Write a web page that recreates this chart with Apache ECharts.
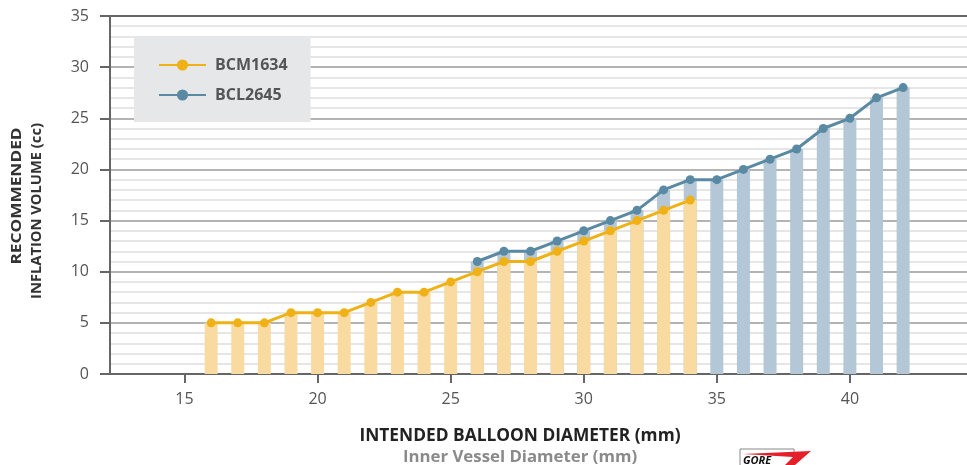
<!DOCTYPE html>
<html>
<head>
<meta charset="utf-8">
<title>Recommended inflation volume</title>
<script src="https://cdn.jsdelivr.net/npm/echarts@6/dist/echarts.min.js"></script>
<style>
  html, body { margin: 0; padding: 0; background: #fff; }
  #chart { width: 967px; height: 465px; }
</style>
</head>
<body>
<div id="chart"></div>
<script>
// balloon diameters (mm) and recommended volumes (cc)
const bcmDiameter = [16, 17, 18, 19, 20, 21, 22, 23, 24, 25, 26, 27, 28, 29, 30, 31, 32, 33, 34];
const bcmVolume   = [5, 5, 5, 6, 6, 6, 7, 8, 8, 9, 10, 11, 11, 12, 13, 14, 15, 16, 17];
const bclDiameter = [26, 27, 28, 29, 30, 31, 32, 33, 34, 35, 36, 37, 38, 39, 40, 41, 42];
const bclVolume   = [11, 12, 12, 13, 14, 15, 16, 18, 19, 19, 20, 21, 22, 24, 25, 27, 28];
const xTicks = [15, 20, 25, 30, 35, 40];

const FONT = '"Open Sans", "DejaVu Sans", sans-serif';

function pairs(xs, ys) {
    return xs.map(function (x, i) { return [x, ys[i]]; });
}
const bcmData = pairs(bcmDiameter, bcmVolume);
const bclData = pairs(bclDiameter, bclVolume);

const chart = echarts.init(document.getElementById('chart'), null, {renderer: 'canvas'});

const option = {
    animation: false,
    grid: {left: 110, right: 0, top: 16, bottom: 91},
    legend: {
        data: ['BCM1634', 'BCL2645'],
        orient: 'vertical',
        left: 134,
        top: 36,
        padding: [21, 23, 19, 24],
        itemGap: 14,
        itemWidth: 47,
        itemHeight: 14,
        backgroundColor: '#e6e7e9',
        textStyle: {fontFamily: FONT, fontWeight: 'bold', fontSize: 16, color: '#555', padding: [0, 0, 0, 4]}
    },
    xAxis: [
        {
            type: 'value',
            min: 12.2,
            max: 44.4,
            axisLine: {lineStyle: {color: '#666', width: 2}},
            axisTick: {show: true, length: 9, lineStyle: {color: '#666', width: 2}, customValues: xTicks},
            axisLabel: {customValues: xTicks, fontFamily: FONT, fontSize: 16, color: '#555', margin: 17},
            splitLine: {show: false}
        },
        {
            // dark frame line along the top of the plot
            type: 'value',
            position: 'top',
            min: 12.2,
            max: 44.4,
            axisLine: {show: true, lineStyle: {color: '#666', width: 2}},
            axisTick: {show: false},
            axisLabel: {show: false},
            splitLine: {show: false}
        }
    ],
    yAxis: {
        type: 'value',
        min: 0,
        max: 35,
        interval: 5,
        axisLine: {show: true, lineStyle: {color: '#666', width: 2}},
        axisTick: {show: true, length: 10, lineStyle: {color: '#666', width: 2}},
        axisLabel: {fontFamily: FONT, fontSize: 16, color: '#555', margin: 21},
        splitLine: {lineStyle: {color: '#b4b4b4', width: 2}},
        minorTick: {show: false, splitNumber: 5},
        minorSplitLine: {show: true, lineStyle: {color: '#e6e6e6', width: 2}}
    },
    series: [
        {
            name: 'BCL2645 bar',
            type: 'bar',
            data: bclData,
            barWidth: 13,
            barGap: '-100%',
            itemStyle: {color: '#b3c7d7'},
            z: 2
        },
        {
            name: 'BCM1634 bar',
            type: 'bar',
            data: bcmData,
            barWidth: 13,
            barGap: '-100%',
            itemStyle: {color: '#f9dba1'},
            z: 2
        },
        {
            name: 'BCL2645',
            type: 'line',
            data: bclData,
            symbol: 'circle',
            symbolSize: 9,
            lineStyle: {color: '#5a8aa3', width: 3},
            itemStyle: {color: '#5a8aa3'},
            z: 4
        },
        {
            name: 'BCM1634',
            type: 'line',
            data: bcmData,
            symbol: 'circle',
            symbolSize: 9,
            lineStyle: {color: '#efb115', width: 3},
            itemStyle: {color: '#efb115'},
            z: 5
        }
    ],
    // titles and logo
    graphic: [
        {
            type: 'text', x: 17, y: 196, rotation: Math.PI / 2, scaleX: 1.15,
            style: {
                text: 'RECOMMENDED', align: 'center', verticalAlign: 'middle',
                fontFamily: FONT, fontWeight: 'bold', fontSize: 15, fill: '#333'
            }
        },
        {
            type: 'text', x: 37, y: 211, rotation: Math.PI / 2, scaleX: 0.98,
            style: {
                text: 'INFLATION VOLUME (cc)', align: 'center', verticalAlign: 'middle',
                fontFamily: FONT, fontWeight: 'bold', fontSize: 15, fill: '#333'
            }
        },
        {
            type: 'text', x: 520, y: 436, scaleX: 1.02,
            style: {
                text: 'INTENDED BALLOON DIAMETER (mm)', align: 'center', verticalAlign: 'middle',
                fontFamily: FONT, fontWeight: 'bold', fontSize: 17, fill: '#222'
            }
        },
        {
            type: 'text', x: 520, y: 457, scaleX: 1.05,
            style: {
                text: 'Inner Vessel Diameter (mm)', align: 'center', verticalAlign: 'middle',
                fontFamily: FONT, fontWeight: 'bold', fontSize: 16, fill: '#8a8a8a'
            }
        },
        {
            type: 'rect', shape: {x: 740, y: 449, width: 54, height: 20},
            style: {fill: '#fff', stroke: '#888', lineWidth: 1}
        },
        {
            type: 'polygon', shape: {points: [[743, 454], [811, 451], [795, 465], [785, 465], [793, 457]]},
            style: {fill: '#e4202b'}
        },
        {
            type: 'text', x: 743, y: 466,
            style: {
                text: 'GORE', align: 'left', verticalAlign: 'bottom',
                fontFamily: FONT, fontWeight: 'bold', fontStyle: 'italic', fontSize: 11, fill: '#111'
            }
        }
    ]
};

chart.setOption(option);
</script>
</body>
</html>
